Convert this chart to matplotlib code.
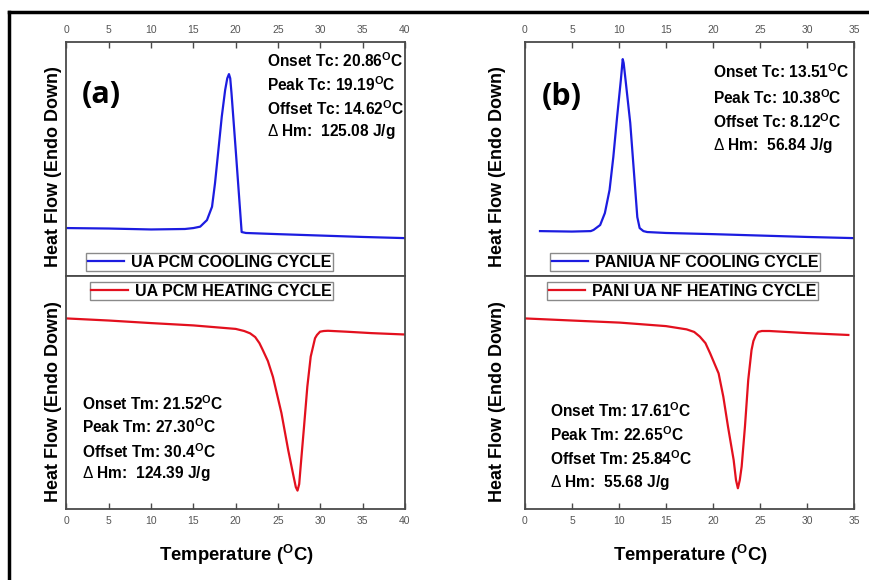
import matplotlib
matplotlib.use("Agg")
import matplotlib.pyplot as plt
from matplotlib.lines import Line2D

plt.rcParams["font.family"] = ["Liberation Sans", "DejaVu Sans"]
plt.rcParams["mathtext.fontset"] = "custom"
plt.rcParams["mathtext.rm"] = "Liberation Sans"
plt.rcParams["mathtext.bf"] = "Liberation Sans:bold"

# (a) UA PCM - cooling scan (exotherm up), normalised heat flow
a_cool_temp = [0, 5, 10, 14, 15, 15.8, 16.6, 17.2, 17.55, 17.95, 18.35, 18.75,
               19.0, 19.2, 19.35, 19.5, 20.0, 20.4, 20.7, 21.2, 25, 30, 35, 40]
a_cool_flow = [0.205, 0.203, 0.199, 0.201, 0.205, 0.211, 0.239, 0.296, 0.396,
               0.538, 0.681, 0.795, 0.845, 0.863, 0.845, 0.782, 0.538, 0.338,
               0.188, 0.184, 0.179, 0.173, 0.167, 0.162]

# (a) UA PCM - heating scan (endotherm down)
a_heat_temp = [0, 5, 10, 15, 20, 21.0, 21.7, 22.3, 22.8, 23.2, 23.8, 24.4,
               25.4, 26.2, 26.8, 27.1, 27.3, 27.5, 27.67, 28.07, 28.46, 28.86,
               29.37, 29.6, 29.96, 30.4, 30.9, 33.1, 36, 40]
a_heat_flow = [0.818, 0.809, 0.798, 0.788, 0.773, 0.764, 0.754, 0.738, 0.712,
               0.682, 0.635, 0.567, 0.412, 0.253, 0.146, 0.094, 0.079, 0.107,
               0.182, 0.353, 0.525, 0.654, 0.733, 0.747, 0.761, 0.764, 0.765,
               0.761, 0.755, 0.749]

# (b) PANI/UA nanofibres - cooling scan
b_cool_temp = [1.6, 5, 7.0, 7.3, 8.0, 8.5, 9.0, 9.4, 9.8, 10.2, 10.4, 10.5,
               10.7, 11.2, 11.6, 11.95, 12.2, 12.6, 13.0, 15, 20, 25, 30, 35]
b_cool_flow = [0.192, 0.190, 0.192, 0.197, 0.218, 0.269, 0.368, 0.509, 0.679,
               0.838, 0.927, 0.910, 0.838, 0.654, 0.440, 0.252, 0.205, 0.192,
               0.188, 0.184, 0.179, 0.173, 0.167, 0.162]

# (b) PANI/UA nanofibres - heating scan
b_heat_temp = [0, 5, 10.1, 15, 17.2, 18.0, 18.6, 19.2, 19.7, 20.6, 21.1, 21.6,
               22.2, 22.45, 22.65, 22.85, 23.05, 23.4, 23.75, 24.1, 24.3, 24.57,
               24.8, 25.2, 26, 30, 34.4]
b_heat_flow = [0.818, 0.809, 0.800, 0.785, 0.771, 0.760, 0.740, 0.712, 0.668,
               0.582, 0.482, 0.353, 0.210, 0.124, 0.089, 0.124, 0.182, 0.353,
               0.554, 0.682, 0.721, 0.747, 0.760, 0.764, 0.764, 0.755, 0.747]

a_cool_notes = ["Onset Tc: 20.86", "Peak Tc: 19.19", "Offset Tc: 14.62"]
a_cool_dh = "125.08"
a_heat_notes = ["Onset Tm: 21.52", "Peak Tm: 27.30", "Offset Tm: 30.4"]
a_heat_dh = "124.39"
b_cool_notes = ["Onset Tc: 13.51", "Peak Tc: 10.38", "Offset Tc: 8.12"]
b_cool_dh = "56.84"
b_heat_notes = ["Onset Tm: 17.61", "Peak Tm: 22.65", "Offset Tm: 25.84"]
b_heat_dh = "55.68"

BLUE = "#1c1ce0"
RED = "#e3101e"
GREY = "#4a4a4a"

fig = plt.figure(figsize=(8.7, 5.8), dpi=100)


def style_axes(ax, xmax, top):
    ax.set_xlim(0, xmax)
    ax.set_ylim(0, 1)
    ax.set_yticks([])
    ax.set_xticks(range(0, xmax + 1, 5))
    for s in ax.spines.values():
        s.set_color(GREY)
        s.set_linewidth(1.3)
    ax.tick_params(axis="x", direction="in", length=4, width=1, color=GREY,
                   labelcolor="#555555", labelsize=7.5,
                   top=top, labeltop=top, bottom=not top, labelbottom=not top,
                   pad=5)


def add_notes(ax, x, ys, notes, dh):
    lines = [n + r"$^{\mathbf{O}}$C" for n in notes]
    lines.append(r"$\Delta$ Hm:  " + dh + " J/g")
    for y, s in zip(ys, lines):
        ax.text(x, y, s, transform=ax.transAxes, fontsize=11.2,
                fontweight="bold", va="baseline", ha="left")


def add_legend(ax, loc, anchor):
    leg = ax.legend(loc=loc, bbox_to_anchor=anchor, borderaxespad=0,
                    prop={"weight": "bold", "size": 11.5}, fancybox=False,
                    edgecolor="#8a8a8a", framealpha=1, borderpad=0.1,
                    handlelength=2.3, handletextpad=0.4)
    leg.get_frame().set_linewidth(1.0)


# left column (a)
ax1 = fig.add_axes([0.0764, 0.5241, 0.3891, 0.4034])
ax2 = fig.add_axes([0.0764, 0.1224, 0.3891, 0.4017])
# right column (b)
ax3 = fig.add_axes([0.6034, 0.5241, 0.3782, 0.4034])
ax4 = fig.add_axes([0.6034, 0.1224, 0.3782, 0.4017])

ax1.plot(a_cool_temp, a_cool_flow, color=BLUE, lw=1.6,
         label="UA PCM COOLING CYCLE")
ax2.plot(a_heat_temp, a_heat_flow, color=RED, lw=1.6,
         label="UA PCM HEATING CYCLE")
ax3.plot(b_cool_temp, b_cool_flow, color=BLUE, lw=1.6,
         label="PANIUA NF COOLING CYCLE")
ax4.plot(b_heat_temp, b_heat_flow, color=RED, lw=1.6,
         label="PANI UA NF HEATING CYCLE")

style_axes(ax1, 40, True)
style_axes(ax2, 40, False)
style_axes(ax3, 35, True)
style_axes(ax4, 35, False)

add_legend(ax1, "lower left", (0.058, 0.021))
add_legend(ax2, "upper left", (0.069, 0.974))
add_legend(ax3, "lower left", (0.076, 0.021))
add_legend(ax4, "upper left", (0.067, 0.974))

add_notes(ax1, 0.592, [0.893, 0.791, 0.688, 0.598], a_cool_notes, a_cool_dh)
add_notes(ax2, 0.046, [0.425, 0.326, 0.219, 0.133], a_heat_notes, a_heat_dh)
add_notes(ax3, 0.571, [0.846, 0.735, 0.632, 0.538], b_cool_notes, b_cool_dh)
add_notes(ax4, 0.076, [0.395, 0.292, 0.189, 0.094], b_heat_notes, b_heat_dh)

ax1.text(0.046, 0.774, "(a)", transform=ax1.transAxes, fontsize=22,
         fontweight="bold", family="Open Sans", va="center", ha="left")
ax3.text(0.052, 0.765, "(b)", transform=ax3.transAxes, fontsize=22,
         fontweight="bold", family="Open Sans", va="center", ha="left")

# axis titles
ylab = "Heat Flow (Endo Down)"
for x in (54 / 870, 498 / 870):
    fig.text(x, 1 - 167 / 580, ylab, rotation=90, fontsize=13,
             fontweight="bold", ha="center", va="center")
    fig.text(x, 1 - 402 / 580, ylab, rotation=90, fontsize=13,
             fontweight="bold", ha="center", va="center")
xlab = r"Temperature ($^{\mathbf{O}}$C)"
fig.text(236 / 870, 1 - 555 / 580, xlab, fontsize=13.3, fontweight="bold",
         ha="center", va="center")
fig.text(690 / 870, 1 - 555 / 580, xlab, fontsize=13.3, fontweight="bold",
         ha="center", va="center")

# outer border around the figure
fig.add_artist(Line2D([9.5 / 870, 9.5 / 870], [1 - 12 / 580, -0.05],
                      color="black", lw=2.5, transform=fig.transFigure))
fig.add_artist(Line2D([9.5 / 870, 1.05], [1 - 12 / 580, 1 - 12 / 580],
                      color="black", lw=2.5, transform=fig.transFigure))

fig.savefig("out.png", dpi=100)
